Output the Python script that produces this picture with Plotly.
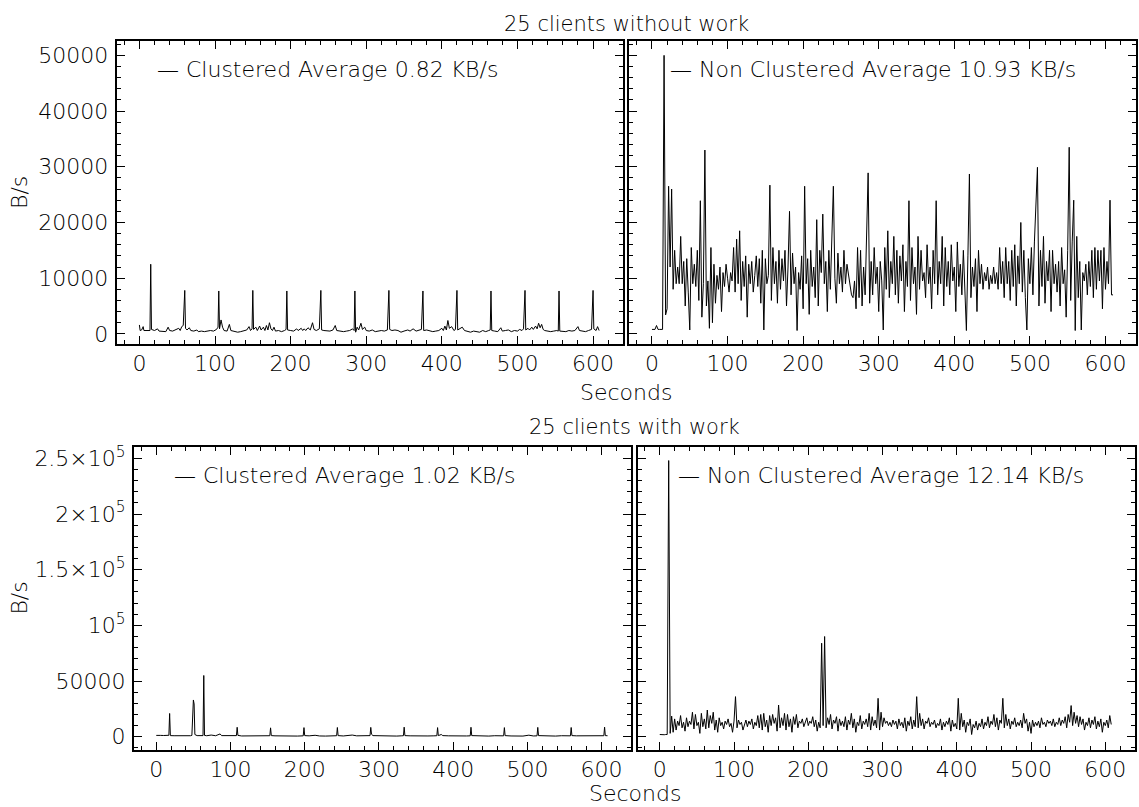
import numpy as np
import plotly.graph_objects as go

# ---- data (values in kB/s, time in seconds) ----
# clustered, 25 clients without work
tl_sec = [0, 1, 3, 5, 6, 10, 14, 15, 16, 20, 24, 26, 30, 35, 38, 40, 44, 48, 52, 54,
          56, 58, 60, 61, 63, 66, 68, 72, 76, 78, 82, 86, 90, 94, 98, 102, 104, 105, 106, 108,
          110, 112, 116, 119, 121, 125, 130, 134, 138, 142, 145, 147, 149, 150, 151, 154, 156, 159, 161, 164,
          166, 168, 170, 172, 174, 176, 178, 180, 184, 188, 192, 194, 195, 196, 200, 204, 208, 210, 214, 216,
          218, 220, 223, 226, 229, 231, 234, 238, 240, 241, 244, 248, 252, 256, 259, 261, 265, 270, 274, 278,
          282, 284, 285, 286, 288, 290, 293, 295, 298, 300, 304, 308, 312, 316, 320, 324, 328, 330, 331, 334,
          338, 342, 346, 350, 355, 358, 362, 366, 370, 373, 375, 376, 380, 384, 388, 392, 396, 400, 402, 404,
          406, 408, 410, 413, 416, 418, 420, 421, 424, 427, 430, 434, 438, 442, 446, 450, 454, 458, 462, 464,
          465, 466, 470, 474, 478, 480, 484, 488, 492, 496, 500, 503, 506, 508, 510, 511, 514, 516, 519, 521,
          524, 526, 528, 530, 532, 534, 536, 540, 544, 548, 552, 554, 555, 556, 560, 564, 568, 572, 576, 580,
          582, 586, 590, 594, 598, 600, 601, 604, 606, 608]
tl_kbs = [1.6, 0.6, 0.7, 1.3, 0.6, 0.6, 0.6, 12.5, 0.8, 0.6, 0.9, 0.5, 0.5, 0.4, 1.2, 0.6, 0.5, 0.7, 1.0, 0.6,
          1.3, 1.5, 7.8, 1.0, 0.7, 1.1, 0.6, 0.5, 0.7, 0.4, 0.5, 0.4, 0.5, 0.6, 0.5, 0.8, 1.2, 7.7, 0.9, 2.5,
          1.2, 0.6, 0.5, 1.7, 0.6, 0.5, 0.3, 0.4, 0.5, 0.7, 1.3, 0.6, 0.9, 7.8, 0.8, 1.2, 0.6, 1.4, 0.7, 1.2,
          0.6, 1.5, 0.7, 2.0, 0.9, 0.6, 1.2, 0.5, 0.6, 0.4, 0.6, 0.8, 7.7, 0.7, 0.6, 0.5, 0.9, 0.6, 1.0, 0.6,
          0.9, 0.6, 1.1, 0.7, 2.0, 0.8, 0.6, 0.9, 7.8, 0.7, 0.6, 0.5, 0.5, 0.7, 1.5, 0.6, 0.5, 0.4, 0.5, 0.6,
          0.9, 0.6, 7.7, 0.3, 1.2, 0.7, 1.9, 0.8, 1.2, 0.6, 0.5, 0.7, 0.4, 0.5, 0.6, 0.5, 0.7, 7.8, 0.8, 0.6,
          0.7, 0.6, 0.3, 0.5, 0.7, 0.5, 0.9, 0.5, 0.6, 0.8, 7.7, 0.6, 0.7, 0.6, 0.4, 0.5, 0.6, 1.0, 0.6, 1.4,
          0.7, 2.4, 1.0, 1.3, 0.6, 0.8, 7.8, 0.7, 0.9, 1.2, 0.6, 0.4, 0.3, 0.5, 0.4, 0.3, 0.6, 0.4, 0.6, 0.7,
          7.7, 0.6, 0.5, 0.4, 1.1, 0.5, 0.6, 0.7, 0.4, 0.6, 0.5, 0.8, 0.6, 0.9, 7.8, 0.7, 1.0, 0.7, 1.2, 0.8,
          1.4, 0.9, 1.9, 1.1, 1.7, 0.8, 0.6, 0.5, 0.4, 0.5, 0.6, 0.5, 7.7, 0.5, 0.5, 0.4, 0.6, 0.5, 0.6, 1.3,
          0.6, 0.5, 0.4, 0.6, 0.8, 7.8, 0.9, 0.6, 1.3, 0.6]

# non clustered, 25 clients without work (one sample every 2 s from 0 s)
tr_kbs = [0.8, 0.8, 0.8, 1.5, 0.8, 0.8, 0.8, 0.8, 50.0, 3.4,
          4.5, 26.5, 12.0, 26.0, 8.0, 15.0, 9.0, 12.0, 9.0, 17.5,
          9.0, 13.0, 5.0, 13.5, 7.5, 0.7, 15.5, 9.0, 12.5, 8.5,
          15.0, 6.0, 23.9, 3.0, 9.0, 33.0, 5.0, 9.5, 1.0, 15.5,
          2.0, 12.5, 5.5, 10.5, 8.0, 12.0, 4.0, 11.0, 8.5, 12.5,
          10.0, 7.5, 11.0, 9.5, 15.5, 7.5, 17.0, 9.0, 18.5, 6.0,
          13.0, 8.5, 14.0, 3.0, 12.5, 9.0, 13.0, 7.5, 10.5, 14.0,
          8.5, 13.5, 5.5, 15.0, 0.7, 13.5, 9.0, 10.5, 26.7, 6.0,
          15.5, 9.0, 13.0, 5.5, 15.0, 8.0, 13.5, 9.5, 15.0, 5.0,
          12.0, 22.0, 7.0, 14.5, 9.0, 12.0, 0.6, 11.0, 8.0, 14.0,
          4.5, 26.5, 9.0, 13.5, 3.5, 15.0, 8.5, 12.0, 6.5, 20.5,
          5.0, 15.0, 11.0, 21.5, 9.0, 13.0, 4.0, 15.0, 8.0, 16.5,
          26.5, 10.0, 5.5, 14.5, 9.0, 12.0, 7.5, 15.0, 9.0, 12.5,
          10.5, 9.0, 7.0, 6.5, 9.5, 4.5, 15.5, 6.5, 15.0, 5.0,
          12.0, 7.0, 16.0, 28.9, 5.5, 13.0, 7.0, 15.5, 9.0, 12.0,
          4.0, 13.0, 9.5, 0.7, 15.5, 8.0, 18.5, 6.5, 13.0, 9.0,
          17.5, 7.0, 15.0, 5.5, 14.0, 9.5, 16.0, 4.0, 13.0, 8.5,
          23.9, 6.0, 15.5, 9.0, 12.0, 3.5, 17.5, 8.0, 15.0, 9.5,
          11.0, 6.5, 16.0, 9.0, 12.0, 4.5, 15.0, 9.0, 23.9, 7.0,
          13.0, 9.0, 17.5, 5.0, 15.5, 8.5, 13.0, 7.0, 16.0, 9.5,
          12.0, 4.0, 16.5, 8.5, 12.5, 7.0, 15.0, 9.0, 0.6, 14.0,
          28.7, 6.5, 12.0, 8.5, 13.5, 4.0, 15.0, 9.0, 12.5, 8.0,
          11.0, 9.5, 12.0, 8.0, 10.5, 9.0, 12.0, 9.0, 11.0, 8.0,
          15.5, 9.0, 13.0, 6.5, 15.5, 9.0, 13.0, 6.0, 15.0, 8.5,
          16.0, 5.0, 14.0, 9.0, 20.0, 7.5, 15.0, 6.5, 0.7, 13.5,
          9.0, 15.5, 7.0, 16.5, 22.0, 29.9, 5.0, 15.0, 8.5, 17.5,
          5.5, 13.0, 9.5, 15.0, 4.0, 15.0, 9.0, 12.5, 7.5, 13.0,
          5.0, 15.5, 9.0, 11.5, 3.0, 15.0, 33.5, 6.0, 16.5, 24.0,
          0.6, 17.5, 6.5, 13.0, 0.7, 11.0, 9.5, 12.5, 7.0, 13.0,
          8.5, 15.0, 6.5, 15.5, 8.0, 15.0, 9.5, 15.0, 4.5, 15.5,
          8.0, 13.0, 9.0, 24.0, 7.0, 7.0]

# clustered, 25 clients with work
bl_sec = [0, 2, 6, 10, 14, 17, 18, 19, 24, 30, 36, 42, 46, 48, 49, 50, 51, 52, 55, 60,
          63, 64, 65, 68, 74, 80, 86, 88, 94, 100, 108, 109, 110, 115, 122, 130, 138, 145, 153, 154,
          155, 160, 168, 175, 182, 190, 198, 199, 200, 206, 214, 220, 228, 236, 243, 244, 245, 252, 258, 264,
          270, 278, 285, 288, 289, 290, 292, 300, 308, 316, 324, 330, 333, 334, 335, 342, 350, 358, 366, 374,
          378, 379, 380, 384, 386, 394, 402, 410, 418, 423, 424, 425, 432, 440, 448, 456, 464, 468, 469, 470,
          478, 486, 494, 502, 508, 513, 514, 515, 522, 530, 538, 546, 552, 558, 559, 560, 566, 574, 582, 590,
          598, 603, 604, 605, 608]
bl_kbs = [1.2, 1.0, 1.2, 1.1, 1.2, 1.3, 20.9, 1.0, 0.9, 0.8, 0.9, 0.7, 0.9, 1.2, 27.9, 33.0, 29.4, 2.0, 1.0, 0.8,
          1.0, 55.0, 1.2, 0.9, 1.5, 0.9, 2.5, 1.0, 0.8, 0.9, 1.0, 8.5, 1.2, 0.7, 0.8, 0.6, 0.8, 0.7, 0.9, 8.0,
          1.0, 0.8, 0.6, 0.9, 0.7, 0.6, 0.8, 8.2, 1.0, 0.8, 1.3, 0.7, 0.6, 0.8, 0.9, 8.3, 1.0, 0.7, 1.0, 1.5,
          0.8, 0.6, 0.7, 1.0, 8.4, 2.2, 1.0, 0.8, 0.7, 0.9, 0.6, 0.8, 0.9, 8.6, 1.0, 0.8, 0.6, 0.9, 0.7, 0.8,
          0.9, 8.2, 1.0, 2.0, 1.0, 0.8, 0.6, 0.9, 0.7, 0.8, 8.5, 1.0, 0.7, 0.8, 0.6, 0.9, 0.7, 0.8, 8.2, 1.0,
          0.7, 0.8, 0.6, 1.4, 0.7, 0.8, 8.4, 1.0, 0.7, 0.8, 0.6, 0.9, 0.7, 0.8, 8.3, 1.0, 0.8, 0.7, 0.9, 0.7,
          0.8, 0.9, 8.6, 1.0, 0.9]

# non clustered, 25 clients with work (one sample every 2 s from 0 s)
br_kbs = [2.0, 1.8, 2.2, 1.8, 2.0, 2.0, 248.0, 3.0, 18.5, 4.0,
          16.0, 6.0, 14.0, 10.0, 19.0, 8.0, 13.0, 5.0, 17.0, 9.0,
          14.0, 11.0, 22.0, 7.0, 20.0, 10.0, 13.0, 3.0, 21.0, 9.0,
          16.0, 7.0, 24.0, 8.0, 19.0, 12.0, 22.0, 6.0, 15.0, 4.0,
          17.0, 10.0, 13.0, 7.0, 14.0, 11.0, 16.0, 9.0, 12.0, 4.0,
          14.0, 36.0, 8.0, 15.0, 11.0, 13.0, 6.0, 12.0, 15.0, 9.0,
          14.0, 11.0, 16.0, 7.0, 13.0, 10.0, 19.0, 8.0, 20.0, 6.0,
          21.0, 9.0, 15.0, 4.0, 19.0, 10.0, 20.0, 12.0, 17.0, 5.0,
          28.5, 8.0, 17.0, 10.0, 21.0, 6.0, 20.0, 9.0, 16.0, 4.0,
          18.0, 11.0, 20.0, 8.0, 14.0, 12.0, 16.0, 9.0, 13.0, 17.0,
          10.0, 14.0, 12.0, 18.0, 9.0, 15.0, 5.0, 13.0, 8.0, 84.0,
          10.0, 90.0, 8.0, 17.0, 11.0, 20.0, 7.0, 15.0, 12.0, 18.0,
          5.0, 16.0, 10.0, 14.0, 9.0, 18.0, 6.0, 15.0, 11.0, 21.0,
          8.0, 16.0, 4.0, 13.0, 10.0, 19.0, 7.0, 14.0, 11.0, 16.0,
          9.0, 21.0, 6.0, 18.0, 10.0, 15.0, 8.0, 34.5, 6.0, 22.0,
          9.0, 17.0, 12.0, 14.0, 10.0, 13.0, 9.0, 15.0, 11.0, 14.0,
          7.0, 16.0, 10.0, 13.0, 8.0, 17.0, 5.0, 14.0, 10.0, 18.0,
          7.0, 15.0, 9.0, 36.0, 8.0, 21.0, 10.0, 16.0, 7.0, 14.0,
          12.0, 17.0, 9.0, 13.0, 11.0, 15.0, 8.0, 12.0, 10.0, 16.0,
          6.0, 13.0, 9.0, 14.0, 11.0, 17.0, 5.0, 15.0, 9.0, 12.0,
          7.0, 34.5, 6.0, 21.0, 9.0, 15.0, 4.0, 13.0, 10.0, 16.0,
          2.0, 11.0, 8.0, 14.0, 6.0, 12.0, 9.0, 16.0, 7.0, 13.0,
          10.0, 18.0, 8.0, 14.0, 11.0, 20.0, 9.0, 17.0, 6.0, 15.0,
          12.0, 34.5, 8.0, 20.0, 10.0, 16.0, 7.0, 14.0, 11.0, 17.0,
          9.0, 13.0, 10.0, 15.0, 8.0, 21.0, 12.0, 16.0, 5.0, 13.0,
          3.0, 15.0, 9.0, 13.0, 10.0, 14.0, 8.0, 17.0, 11.0, 13.0,
          9.0, 15.0, 12.0, 14.0, 10.0, 16.0, 9.0, 13.0, 11.0, 17.0,
          10.0, 15.0, 12.0, 18.0, 8.0, 20.0, 13.0, 28.0, 10.0, 22.0,
          12.0, 19.0, 9.0, 18.0, 11.0, 16.0, 6.0, 13.0, 10.0, 17.0,
          8.0, 15.0, 11.0, 18.0, 7.0, 14.0, 9.0, 16.0, 4.0, 13.0,
          10.0, 15.0, 8.0, 19.0, 11.0]

sample_step = 2
titles = ["25 clients without work", "25 clients with work"]
legend_text = ["Clustered Average 0.82 KB/s", "Non Clustered Average 10.93 KB/s",
               "Clustered Average 1.02 KB/s", "Non Clustered Average 12.14 KB/s"]
x_ticks = [0, 100, 200, 300, 400, 500, 600]
y_ticks_top = [0, 10000, 20000, 30000, 40000, 50000]
y_text_top = ["0", "10000", "20000", "30000", "40000", "50000"]
y_ticks_bot = [0, 50000, 100000, 150000, 200000, 250000]
y_text_bot = ["0", "50000", "10<sup>5</sup>", "1.5×10<sup>5</sup>", "2×10<sup>5</sup>",
              "2.5×10<sup>5</sup>"]

# ---- page geometry (pixels) ----
W, H = 1139, 807


def px(x):
    return x / W


def py(y):
    return 1 - y / H


FONT = dict(family="DejaVu Sans", size=22, color="black", weight=200)
TITLE_FONT = dict(FONT, size=21)

fig = go.Figure()
tr_sec = np.arange(len(tr_kbs)) * sample_step
br_sec = np.arange(len(br_kbs)) * sample_step
series = [(tl_sec, tl_kbs), (tr_sec, tr_kbs), (bl_sec, bl_kbs), (br_sec, br_kbs)]
for i, (sx, sy) in enumerate(series):
    fig.add_trace(go.Scatter(x=sx, y=np.array(sy) * 1000, mode="lines",
                             line=dict(color="black", width=1),
                             name=legend_text[i], showlegend=False,
                             xaxis="x" if i == 0 else f"x{i + 1}",
                             yaxis="y" if i == 0 else f"y{i + 1}"))

common = dict(showline=True, linecolor="black", linewidth=2, mirror="ticks",
              ticks="inside", ticklen=8, tickwidth=1.2, tickcolor="black",
              showgrid=False, zeroline=False, tickfont=FONT)

boxes = [(116.7, 623.3, 37.7, 343.0), (629.3, 1135.7, 37.7, 343.0),
         (134.0, 631.3, 446.5, 751.8), (637.5, 1135.0, 446.5, 751.8)]

layout = {}
for i, (x0, x1, y0, y1) in enumerate(boxes):
    sfx = "" if i == 0 else str(i + 1)
    top = i < 2
    layout["xaxis" + sfx] = dict(common, domain=[px(x0), px(x1)], range=[-30, 640],
                                 anchor="y" + sfx, tickvals=x_ticks,
                                 ticklabelstandoff=-2,
                                 minor=dict(ticks="inside", dtick=20, ticklen=4,
                                            tickwidth=1.2, tickcolor="black"))
    layout["yaxis" + sfx] = dict(common, domain=[py(y1), py(y0)], anchor="x" + sfx,
                                 range=[-1900, 52500] if top else [-12100, 260000],
                                 tickvals=y_ticks_top if top else y_ticks_bot,
                                 ticktext=y_text_top if top else y_text_bot,
                                 showticklabels=(i % 2 == 0),
                                 ticklabelstandoff=2,
                                 minor=dict(ticks="inside", dtick=2000 if top else 10000,
                                            ticklen=4, tickwidth=1.2, tickcolor="black"))

ann = []
# row titles, x titles and y titles
for r, (y_title, y_sec, y_mid, xc) in enumerate([(20, 391, 190.4, 626),
                                                 (426, 795, 599, 634.5)]):
    ann.append(dict(text=titles[r], x=px(xc), y=py(y_title), xref="paper", yref="paper",
                    showarrow=False, xanchor="center", yanchor="middle", font=TITLE_FONT))
    ann.append(dict(text="Seconds", x=px(xc), y=py(y_sec), xref="paper", yref="paper",
                    showarrow=False, xanchor="center", yanchor="middle", font=FONT))
    ann.append(dict(text="B/s", x=px(20), y=py(y_mid), xref="paper", yref="paper",
                    showarrow=False, textangle=-90, xanchor="center", yanchor="middle",
                    font=FONT))

# in-panel legends
leg_pos = [(155, 66), (668, 65.5), (172, 475), (676, 475)]
for i, (lx, ly) in enumerate(leg_pos):
    ann.append(dict(text="— " + legend_text[i], x=px(lx), y=py(ly), xref="paper",
                    yref="paper", showarrow=False, xanchor="left", yanchor="middle",
                    font=FONT))

fig.update_layout(width=W, height=H, margin=dict(l=0, r=0, t=0, b=0),
                  paper_bgcolor="white", plot_bgcolor="white",
                  annotations=ann, showlegend=False, **layout)

fig.write_html("out.html", config={"displayModeBar": False},
               post_script="document.body.style.margin='0';"
                           "document.body.style.overflow='hidden';")
